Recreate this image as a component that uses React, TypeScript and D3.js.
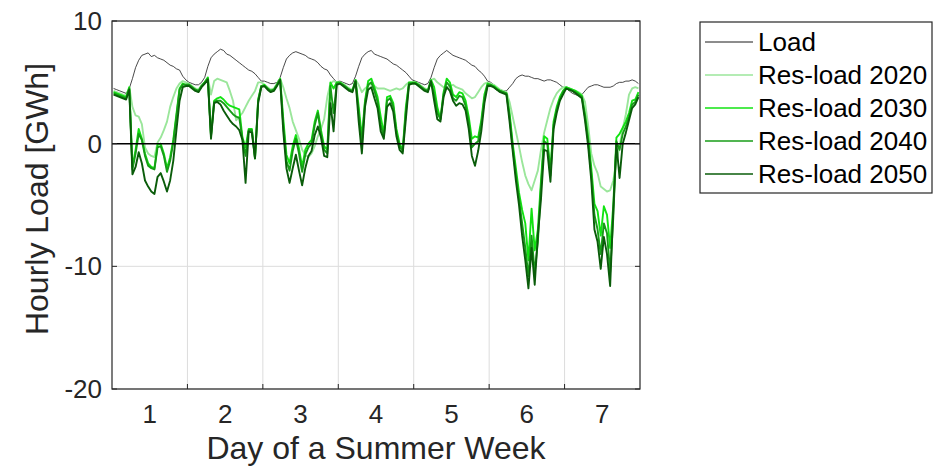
import React from 'react'
import * as d3 from 'd3'

// hourly values over one summer week (168 h), GWh
const loadSeries = [
  4.5, 4.4, 4.3, 4.2, 4.1, 4.5, 5.3, 6.2, 6.8, 7.2, 7.3, 7.4, 7.1, 7.2, 7.0, 6.9, 6.8, 6.6, 6.4, 6.3, 6.1, 6.0, 5.5, 5.2,
  5.0, 4.9, 4.8, 4.8, 5.0, 5.4, 6.3, 7.0, 7.3, 7.5, 7.7, 7.6, 7.3, 7.2, 7.0, 6.8, 6.6, 6.4, 6.2, 6.0, 5.9, 5.7, 5.4, 5.1,
  5.1, 5.0, 4.9, 4.9, 5.0, 5.4, 6.2, 6.9, 7.2, 7.4, 7.5, 7.4, 7.3, 7.2, 7.0, 6.9, 6.8, 6.6, 6.3, 6.1, 6.0, 5.6, 5.3, 5.0,
  5.1, 5.0, 4.9, 4.8, 4.9, 5.5, 6.3, 7.0, 7.3, 7.5, 7.6, 7.3, 7.2, 7.1, 7.0, 6.9, 6.7, 6.5, 6.4, 6.2, 6.0, 5.8, 5.5, 5.2,
  5.1, 5.0, 4.9, 4.8, 4.9, 5.4, 6.2, 6.9, 7.2, 7.4, 7.6, 7.4, 7.2, 7.1, 7.0, 6.9, 6.8, 6.6, 6.4, 6.3, 6.0, 5.8, 5.5, 5.1,
  5.0, 4.8, 4.6, 4.4, 4.3, 4.3, 4.6, 4.9, 5.3, 5.5, 5.6, 5.5, 5.5, 5.4, 5.3, 5.3, 5.2, 5.1, 5.2, 5.2, 5.1, 5.0, 4.8, 4.6,
  4.5, 4.3, 4.1, 4.0, 3.9, 4.0, 4.3, 4.6, 4.7, 4.8, 4.8, 4.7, 4.6, 4.6, 4.6, 4.7, 4.9, 5.0, 5.0, 5.1, 5.1, 5.2, 5.1, 4.9,
]

const res2020 = [
  4.3, 4.2, 4.1, 4.0, 3.9, 4.6, 3.0, 2.3, 2.2, 1.6, -0.3, -0.8, -1.0, -1.1, 0.1, 0.5, 1.1, 1.8, 3.0, 3.8, 4.5, 4.9, 5.1, 5.0,
  4.9, 4.7, 4.5, 4.4, 4.8, 5.0, 5.4, 4.0, 5.1, 5.3, 5.2, 5.1, 5.0, 4.3, 3.5, 1.9, 2.2, 2.5, 3.0, 3.5, 3.9, 4.3, 5.0, 5.0,
  4.8, 4.6, 4.4, 4.5, 4.9, 5.3, 4.6, 3.7, 2.9, 1.8, 1.1, 0.4, -0.5, -0.9, -1.1, -0.8, -0.2, 0.6, 1.2, 2.0, 3.8, 4.9, 5.1, 5.0,
  5.0, 4.9, 4.7, 4.5, 4.4, 5.2, 4.8, 4.2, 4.5, 4.7, 4.9, 4.7, 4.5, 4.5, 4.5, 4.4, 4.3, 4.4, 4.5, 4.4, 4.5, 4.8, 5.0, 5.0,
  5.0, 4.9, 4.7, 4.5, 4.4, 5.2, 5.3, 5.0, 4.8, 4.6, 4.6, 4.7, 4.8, 4.6, 4.5, 4.4, 4.1, 3.9, 3.7, 3.8, 4.2, 4.6, 4.9, 5.0,
  4.9, 4.8, 4.6, 4.4, 4.3, 4.2, 3.4, 2.2, 1.0, -0.2, -1.5, -2.6, -3.3, -3.8, -3.0, -2.2, -0.5, 0.9, 1.9, 2.9, 3.6, 4.1, 4.4, 4.6,
  4.6, 4.5, 4.4, 4.3, 4.2, 4.0, 3.4, 1.5, -0.8, -1.8, -2.4, -3.5, -3.7, -3.9, -3.8, -3.0, -1.5, -0.2, 1.2, 2.4, 4.0, 4.5, 4.6, 4.5,
]

const res2030 = [
  4.2, 4.1, 4.0, 3.9, 3.8, 4.6, -1.9, -0.5, 1.2, 0.4, -0.8, -1.6, -1.9, -2.0, -0.1, 0.0, -0.8, -2.0, -1.1, 0.3, 2.4, 4.5, 4.9, 4.8,
  4.8, 4.6, 4.4, 4.3, 4.7, 5.0, 5.4, 0.7, 3.5, 3.7, 3.8, 3.6, 3.3, 3.1, 3.0, 2.9, 2.8, 0.5, -0.3, 1.2, 1.2, -1.2, 3.6, 4.7,
  4.8, 4.5, 4.3, 4.4, 4.8, 5.3, 2.0, -0.9, -1.6, -0.2, 0.7, -0.4, -1.9, -0.5, 0.0, 0.3, 1.8, 2.7, 1.1, -0.2, -0.5, 5.0, 4.5, 5.0,
  5.0, 4.8, 4.6, 4.4, 4.3, 5.2, 3.0, 0.5, 3.5, 5.1, 5.3, 4.6, 3.8, 2.2, 0.8, 3.8, 3.9, 3.3, 1.2, 0.0, -0.5, 3.0, 5.0, 5.0,
  5.0, 4.8, 4.6, 4.4, 4.3, 5.2, 4.6, 3.0, 2.0, 4.2, 5.3, 5.0, 4.0, 3.8, 4.2, 4.1, 3.5, 2.2, 0.4, 0.6, 0.5, 1.9, 4.0, 4.9,
  4.8, 4.7, 4.5, 4.3, 4.2, 4.1, 2.5, 0.0, -2.0, -4.0, -5.4, -6.5, -9.5, -5.3, -8.7, -7.0, -3.0, 0.6, 0.4, -2.2, 1.8, 3.0, 3.8, 4.3,
  4.6, 4.5, 4.4, 4.3, 4.1, 3.9, 2.4, 0.5, -2.0, -4.9, -5.5, -7.5, -5.1, -5.8, -8.5, -5.0, 0.5, 0.8, 1.3, 1.8, 2.5, 3.5, 3.6, 4.2,
]

const res2040 = [
  4.1, 4.0, 3.9, 3.8, 3.7, 4.5, -2.1, -0.8, 0.8, 0.3, -1.0, -1.8, -2.0, -2.1, -0.3, -0.2, -1.0, -2.3, -1.4, 0.1, 2.2, 4.4, 4.8, 4.8,
  4.8, 4.6, 4.4, 4.3, 4.7, 5.0, 5.3, 0.6, 3.4, 3.5, 3.5, 3.3, 3.0, 2.7, 2.4, 2.2, 2.1, 0.4, -1.0, 1.1, 1.1, -1.2, 3.5, 4.7,
  4.7, 4.5, 4.3, 4.4, 4.8, 5.2, 1.5, -1.4, -2.2, -0.6, 0.4, -0.8, -2.3, -0.9, -0.3, 0.0, 1.5, 2.5, 0.8, -0.5, -0.8, 4.7, 2.5, 4.9,
  4.9, 4.8, 4.6, 4.4, 4.3, 5.1, 2.5, 0.0, 3.3, 4.8, 5.0, 4.3, 3.4, 1.5, 0.6, 3.5, 3.7, 3.0, 0.9, -0.2, -0.6, 2.6, 4.9, 4.9,
  4.9, 4.8, 4.6, 4.4, 4.3, 5.1, 4.0, 2.5, 2.0, 4.0, 5.0, 4.7, 3.7, 3.5, 3.9, 3.8, 3.1, 1.8, -0.3, 0.0, 0.2, 1.6, 3.7, 4.8,
  4.8, 4.6, 4.4, 4.3, 4.2, 4.1, 2.2, -0.3, -2.5, -4.5, -6.5, -8.5, -10.8, -7.5, -10.5, -8.0, -3.5, 0.2, 0.0, -2.6, 1.5, 2.8, 3.6, 4.2,
  4.5, 4.4, 4.3, 4.2, 4.0, 3.8, 2.2, 0.2, -2.5, -5.8, -7.0, -9.0, -6.5, -7.3, -10.5, -6.0, 0.2, -0.5, 0.8, 1.4, 2.2, 3.2, 3.4, 4.0,
]

const res2050 = [
  4.0, 3.9, 3.8, 3.7, 3.6, 4.4, -2.5, -1.9, -0.7, -1.6, -3.0, -3.5, -3.9, -4.1, -2.7, -2.4, -3.1, -3.9, -3.0, -1.4, 1.1, 3.5, 4.6, 4.7,
  4.7, 4.5, 4.3, 4.2, 4.6, 4.9, 5.2, 0.4, 3.3, 3.4, 3.2, 2.7, 2.3, 1.9, 1.6, 1.4, 1.1, 0.3, -3.2, 1.0, 0.9, -1.2, 3.3, 4.6,
  4.7, 4.4, 4.2, 4.3, 4.7, 5.2, 1.0, -2.0, -3.2, -2.0, -0.9, -2.2, -3.4, -2.0, -1.0, -0.6, 0.7, 1.4, 0.5, -1.0, -1.1, 3.3, 1.0, 4.8,
  4.9, 4.7, 4.5, 4.3, 4.2, 5.1, 1.8, -0.8, 3.0, 4.4, 4.6, 3.7, 2.9, 1.0, 0.4, 3.0, 3.3, 2.6, 0.6, -0.5, -0.8, 2.0, 4.8, 4.9,
  4.9, 4.7, 4.5, 4.3, 4.2, 5.1, 3.5, 2.0, 1.8, 3.8, 4.6, 4.3, 3.5, 3.1, 3.3, 3.2, 2.7, 1.2, -1.0, -1.8, -0.6, 1.0, 3.3, 4.7,
  4.7, 4.6, 4.4, 4.2, 4.1, 4.0, 1.8, -0.6, -3.0, -5.0, -7.5, -9.5, -11.8, -8.5, -11.5, -7.5, -4.5, -0.5, -0.6, -3.1, 1.2, 2.5, 3.5, 4.0,
  4.5, 4.4, 4.3, 4.1, 3.9, 3.7, 1.9, -0.2, -3.0, -7.0, -8.0, -10.2, -7.6, -9.0, -11.6, -5.4, 0.0, -2.8, 0.0, 0.9, 1.9, 2.9, 3.2, 3.8,
]

const seriesNames = ['Load', 'Res-load 2020', 'Res-load 2030', 'Res-load 2040', 'Res-load 2050']
const dayLabels = ['1', '2', '3', '4', '5', '6', '7']
const dayBoundaries = [1.5, 2.5, 3.5, 4.5, 5.5, 6.5]
const yTicks = [-20, -10, 0, 10]

const W = 942
const H = 475
const margin = { left: 112, right: 302, top: 21, bottom: 86 }
const FONT = "'Liberation Sans', Arial, Helvetica, sans-serif"
const AXIS = '#262626'

const styles = [
  { color: '#1a1a1a', width: 0.8 },
  { color: '#9be69b', width: 1.9 },
  { color: '#12e312', width: 1.9 },
  { color: '#179c17', width: 1.9 },
  { color: '#0a5c0a', width: 1.9 },
]

export default function App() {
  const innerW = W - margin.left - margin.right
  const innerH = H - margin.top - margin.bottom

  const x = d3.scaleLinear().domain([0.5, 7.5]).range([margin.left, margin.left + innerW])
  const y = d3.scaleLinear().domain([-20, 10]).range([margin.top + innerH, margin.top])

  const line = d3
    .line<number>()
    .x((_, i) => x(0.5 + (i + 0.5) / 24))
    .y(d => y(d))

  const allSeries = [loadSeries, res2020, res2030, res2040, res2050]
  const x0 = margin.left
  const x1 = margin.left + innerW
  const yTop = margin.top
  const yBot = margin.top + innerH
  const tick = 5

  const legend = { x: 700, y: 22, w: 232, h: 171, row: 33 }

  return (
    <svg
      width={W}
      height={H}
      style={{ position: 'absolute', left: 0, top: 0, background: '#fff', display: 'block' }}
      fontFamily={FONT}
    >
      <rect x={0} y={0} width={W} height={H} fill="#fff" />

      {/* grid */}
      {dayBoundaries.map(d => (
        <line key={'gx' + d} x1={x(d)} x2={x(d)} y1={yTop} y2={yBot} stroke="#dcdcdc" strokeWidth={1} />
      ))}
      {yTicks.map(t => (
        <line key={'gy' + t} x1={x0} x2={x1} y1={y(t)} y2={y(t)} stroke="#dcdcdc" strokeWidth={1} />
      ))}

      {/* series */}
      {allSeries.map((s, i) => (
        <path
          key={seriesNames[i]}
          d={line(s) || ''}
          fill="none"
          stroke={styles[i].color}
          strokeWidth={styles[i].width}
          strokeLinejoin="round"
        />
      ))}

      {/* zero line */}
      <line x1={x0} x2={x1} y1={y(0)} y2={y(0)} stroke="#000" strokeWidth={1.5} />

      {/* axes box and ticks */}
      <rect x={x0} y={yTop} width={innerW} height={innerH} fill="none" stroke={AXIS} strokeWidth={1.2} />
      {dayBoundaries.map(d => (
        <g key={'tx' + d}>
          <line x1={x(d)} x2={x(d)} y1={yBot} y2={yBot - tick} stroke={AXIS} strokeWidth={1} />
          <line x1={x(d)} x2={x(d)} y1={yTop} y2={yTop + tick} stroke={AXIS} strokeWidth={1} />
        </g>
      ))}
      {yTicks.map(t => (
        <g key={'ty' + t}>
          <line x1={x0} x2={x0 + tick} y1={y(t)} y2={y(t)} stroke={AXIS} strokeWidth={1} />
          <line x1={x1} x2={x1 - tick} y1={y(t)} y2={y(t)} stroke={AXIS} strokeWidth={1} />
          <text x={x0 - 10} y={y(t)} dy="0.35em" textAnchor="end" fontSize={26} fill={AXIS}>
            {t}
          </text>
        </g>
      ))}
      {dayLabels.map((lab, i) => (
        <text key={'lx' + lab} x={x(i + 1)} y={yBot + 34} textAnchor="middle" fontSize={26} fill={AXIS}>
          {lab}
        </text>
      ))}

      {/* axis titles */}
      <text x={(x0 + x1) / 2} y={459} textAnchor="middle" fontSize={32} fill={AXIS}>
        Day of a Summer Week
      </text>
      <text
        transform={`translate(48,${(yTop + yBot) / 2 - 6}) rotate(-90)`}
        textAnchor="middle"
        fontSize={32}
        fill={AXIS}
      >
        Hourly Load [GWh]
      </text>

      {/* legend */}
      <rect x={legend.x} y={legend.y} width={legend.w} height={legend.h} fill="#fff" stroke={AXIS} strokeWidth={1.2} />
      {seriesNames.map((name, i) => {
        const ly = legend.y + 20 + i * legend.row
        return (
          <g key={'lg' + name}>
            <line x1={legend.x + 5} x2={legend.x + 53} y1={ly} y2={ly} stroke={styles[i].color} strokeWidth={i === 0 ? 1 : 1.5} />
            <text x={legend.x + 58} y={ly} dy="0.35em" fontSize={26} fill="#000">
              {name}
            </text>
          </g>
        )
      })}
    </svg>
  )
}
